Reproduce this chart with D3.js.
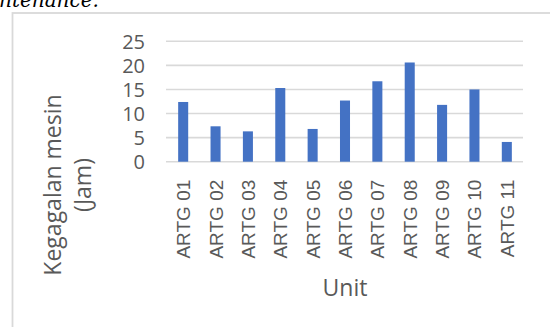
<!DOCTYPE html>
<html>
<head>
<meta charset="utf-8">
<script src="https://cdn.jsdelivr.net/npm/d3@7/dist/d3.min.js"></script>
<style>
  html, body { margin: 0; padding: 0; background: #fff; }
  svg { display: block; }
</style>
</head>
<body>
<svg id="chart" width="550" height="327"></svg>
<script>
// Machine failure hours per ARTG unit
const units = ["ARTG 01", "ARTG 02", "ARTG 03", "ARTG 04", "ARTG 05", "ARTG 06",
               "ARTG 07", "ARTG 08", "ARTG 09", "ARTG 10", "ARTG 11"];
const hours = [12.4, 7.35, 6.3, 15.3, 6.8, 12.7, 16.7, 20.6, 11.8, 15.0, 4.1];
const yTicks = [0, 5, 10, 15, 20, 25];

const svg = d3.select("#chart");
const textColor = "#595959";
const gridColor = "#d9d9d9";

// Trailing text of the paragraph above the chart
svg.append("text")
  .attr("x", -1).attr("y", 6.5)
  .attr("font-family", "DejaVu Serif")
  .attr("font-style", "italic")
  .attr("font-size", 20)
  .attr("fill", "#000")
  .text("ntenance.");

// Chart area frame
svg.append("rect")
  .attr("x", 12.5).attr("y", 13)
  .attr("width", 700).attr("height", 500)
  .attr("fill", "none")
  .attr("stroke", gridColor)
  .attr("stroke-width", 1.8);

const plot = { left: 167, right: 523, top: 41.3, bottom: 161.7 };

const x = d3.scaleBand()
  .domain(units)
  .range([plot.left, plot.right])
  .paddingInner(0.69)
  .paddingOuter(0.345);

const y = d3.scaleLinear()
  .domain([0, 25])
  .range([plot.bottom, plot.top]);

// Horizontal gridlines
svg.append("g")
  .selectAll("line")
  .data(yTicks)
  .join("line")
  .attr("x1", plot.left - 1).attr("x2", plot.right)
  .attr("y1", d => y(d)).attr("y2", d => y(d))
  .attr("stroke", gridColor)
  .attr("stroke-width", 1.6);

// Y axis labels
const yAxis = svg.append("g")
  .attr("transform", `translate(${plot.left - 22},0)`)
  .call(d3.axisLeft(y).tickValues(yTicks).tickSize(0).tickPadding(0));
yAxis.select(".domain").remove();
yAxis.selectAll("text")
  .attr("font-family", "Open Sans")
  .attr("font-size", 20)
  .attr("fill", textColor)
  .attr("dy", "0.36em");

// Bars
svg.append("g")
  .selectAll("rect")
  .data(units.map((u, i) => ({ unit: u, value: hours[i] })))
  .join("rect")
  .attr("x", d => x(d.unit))
  .attr("width", x.bandwidth())
  .attr("y", d => y(d.value))
  .attr("height", d => y(0) - y(d.value))
  .attr("fill", "#4472C4");

// X axis category labels (rotated)
const xAxis = svg.append("g")
  .attr("transform", `translate(0,${plot.bottom + 18})`)
  .call(d3.axisBottom(x).tickSize(0).tickPadding(0));
xAxis.select(".domain").remove();
xAxis.selectAll("text")
  .attr("font-family", "Liberation Sans")
  .attr("font-size", 19)
  .attr("fill", textColor)
  .attr("text-anchor", "end")
  .attr("dy", null)
  .attr("transform", "translate(7,0) rotate(-90)")
  .attr("x", 0).attr("y", 0);

// Axis titles
svg.append("text")
  .attr("x", (plot.left + plot.right) / 2)
  .attr("y", 296)
  .attr("text-anchor", "middle")
  .attr("font-family", "Open Sans")
  .attr("font-size", 23)
  .attr("fill", textColor)
  .text("Unit");

const yTitle = svg.append("text")
  .attr("transform", "translate(61,185) rotate(-90)")
  .attr("text-anchor", "middle")
  .attr("font-family", "Open Sans")
  .attr("font-size", 23)
  .attr("fill", textColor);
yTitle.append("tspan").attr("x", 0).attr("dy", 0).text("Kegagalan mesin");
yTitle.append("tspan").attr("x", 0).attr("dy", 30).text("(Jam)");
</script>
</body>
</html>
